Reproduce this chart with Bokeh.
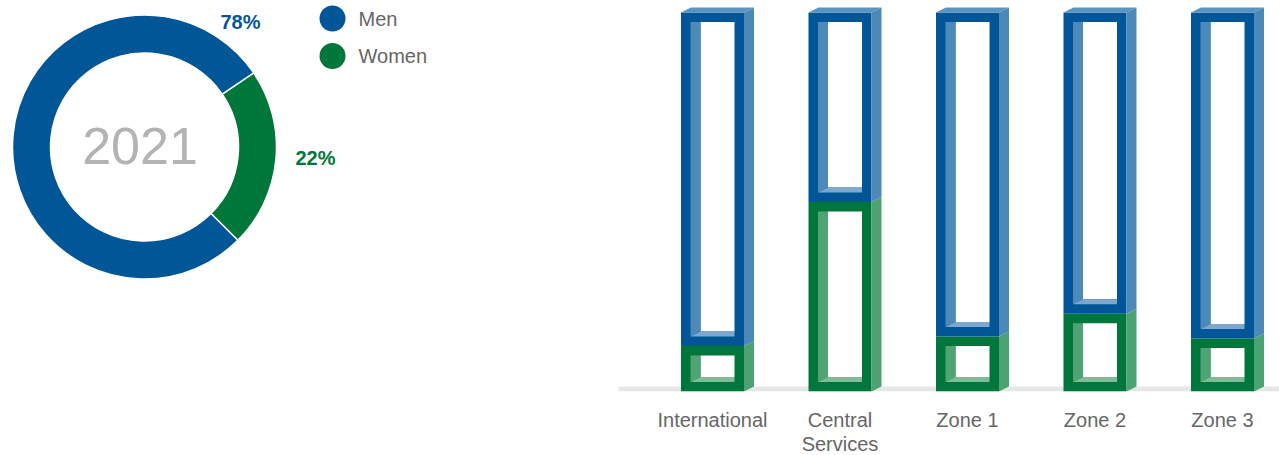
import math
from bokeh.plotting import figure
from bokeh.models import ColumnDataSource, Range1d, FixedTicker
from bokeh.layouts import row
from bokeh.embed import file_html
from bokeh.resources import INLINE
from bokeh.core.properties import value

# ---------------- data ----------------
genders = ["Men", "Women"]
total_share = [78, 22]
year_label = "2021"

categories = ["International", "Central\nServices", "Zone 1", "Zone 2", "Zone 3"]
women_pct = [12, 50, 14.5, 20.5, 14]
men_pct = [88, 50, 85.5, 79.5, 86]

# ---------------- styles ----------------
FONT = "Liberation Sans"
BLUE = "#005697"
GREEN = "#00773a"
BLUE_SIDE = "#4c88b8"
BLUE_TOP = "#5a93c1"
BLUE_WALL = "#4e8ab9"
BLUE_FLOOR = "#7da7ce"
GREEN_SIDE = "#4da273"
GREEN_WALL = "#4fa374"
GREEN_FLOOR = "#80bb98"
TEXT_GREY = "#666666"

FH = 391          # shared frame height (rows align frames)
BOTTOM = 64       # space under the frames for the category labels

# ---------------- donut ----------------
W1 = 600
p1 = figure(frame_width=W1, frame_height=FH, x_range=Range1d(0, W1), y_range=Range1d(0, FH),
            output_backend="svg", toolbar_location=None,
            x_axis_location=None, y_axis_location=None, min_border=0,
            min_border_bottom=BOTTOM)
p1.grid.visible = False
p1.outline_line_color = None

cx, cy = 144, FH - 146.5
r_in, r_out = 94, 132
# Women wedge starts at -45 deg, then Men follows counter-clockwise
start = math.radians(-45)
order = [1, 0]
starts, ends, cols, names = [], [], [], []
a = start
for k in order:
    span = total_share[k] / sum(total_share) * 2 * math.pi
    starts.append(a)
    ends.append(a + span)
    cols.append(BLUE if k == 0 else GREEN)
    names.append(genders[k])
    a += span
dsrc = ColumnDataSource(dict(s=starts, e=ends, c=cols, n=names))
p1.annular_wedge(x=cx, y=cy, inner_radius=r_in, outer_radius=r_out,
                 start_angle="s", end_angle="e", fill_color="c",
                 line_color="white", line_width=1.5, source=dsrc)

p1.text(x=[cx - 4.5], y=[cy + 1], text=[year_label], text_font=value(FONT),
        text_font_size="52px", text_color="#b3b3b3",
        text_align="center", text_baseline="middle")

lab = ColumnDataSource(dict(
    x=[cx + 96, cx + 171],
    y=[cy + 125.5, cy - 11],
    t=[f"{total_share[0]}%", f"{total_share[1]}%"],
    c=[BLUE, GREEN]))
p1.text(x="x", y="y", text="t", text_color="c", source=lab,
        text_font=value(FONT), text_font_size="20px", text_font_style="bold",
        text_align="center", text_baseline="middle")

# legend
leg_y = [FH - 18 - 37.5 * i for i in range(len(genders))]
leg = ColumnDataSource(dict(x=[332] * len(genders), y=leg_y, c=[BLUE, GREEN], t=genders))
p1.scatter(x="x", y="y", size=26, fill_color="c", line_color=None, source=leg)
p1.text(x=[358] * len(genders), y=leg_y, text=genders,
        text_font=value(FONT), text_font_size="20px", text_color=TEXT_GREY,
        text_align="left", text_baseline="middle")

# ---------------- 3D hollow stacked bars ----------------
W2 = 1279 - W1
px_per_x = 127.5
x0_px = 112
px_per_y = 3.79
y_end = FH / px_per_y

p2 = figure(frame_width=W2, frame_height=FH,
            x_range=Range1d(-x0_px / px_per_x, (W2 - x0_px) / px_per_x),
            y_range=Range1d(0, y_end),
            output_backend="svg", toolbar_location=None,
            y_axis_location=None, min_border=0, min_border_bottom=BOTTOM)
p2.grid.visible = False
p2.outline_line_color = None

hw = 31.5 / px_per_x
tx = 9.5 / px_per_x
ty = 9.5 / px_per_y
dx = 10 / px_per_x
dy = 5 / px_per_y

# floor band
p2.quad(left=[(618 - W1 - x0_px) / px_per_x], right=[(W2 + 20 - x0_px) / px_per_x],
        bottom=[0], top=[dy], fill_color="#e6e6e6", line_color=None)

front = dict(l=[], r=[], b=[], t=[], c=[])
white = dict(l=[], r=[], b=[], t=[])
polys = dict(xs=[], ys=[], c=[])

for i, cat in enumerate(categories):
    segs = [(0, women_pct[i], GREEN, GREEN_SIDE, GREEN_WALL, GREEN_FLOOR, None),
            (women_pct[i], women_pct[i] + men_pct[i], BLUE, BLUE_SIDE, BLUE_WALL, BLUE_FLOOR, BLUE_TOP)]
    for (b, t, cf, cs, cw, cfl, ct) in segs:
        L, R = i - hw, i + hw
        front["l"].append(L); front["r"].append(R)
        front["b"].append(b); front["t"].append(t); front["c"].append(cf)
        # right side face
        polys["xs"].append([R, R + dx, R + dx, R])
        polys["ys"].append([b, b + dy, t + dy, t])
        polys["c"].append(cs)
        if ct is not None:
            polys["xs"].append([L, L + dx, R + dx, R])
            polys["ys"].append([t, t + dy, t + dy, t])
            polys["c"].append(ct)
        il, ir, ib, it = L + tx, R - tx, b + ty, t - ty
        # inner left wall
        polys["xs"].append([il, il + dx, il + dx, il])
        polys["ys"].append([it, it, ib + dy, ib])
        polys["c"].append(cw)
        # inner floor
        polys["xs"].append([il, il + dx, ir, ir])
        polys["ys"].append([ib, ib + dy, ib + dy, ib])
        polys["c"].append(cfl)
        white["l"].append(il + dx); white["r"].append(ir)
        white["b"].append(ib + dy); white["t"].append(it)

p2.quad(left="l", right="r", bottom="b", top="t", fill_color="c",
        line_color=None, source=ColumnDataSource(front))
p2.quad(left="l", right="r", bottom="b", top="t", fill_color="white",
        line_color=None, source=ColumnDataSource(white))
p2.patches(xs="xs", ys="ys", fill_color="c", line_color=None,
           source=ColumnDataSource(polys))

ax = p2.xaxis[0]
ax.ticker = FixedTicker(ticks=list(range(len(categories))))
ax.major_label_overrides = {i: c for i, c in enumerate(categories)}
ax.axis_line_color = None
ax.major_tick_line_color = None
ax.minor_tick_line_color = None
ax.major_tick_out = 0
ax.major_tick_in = 0
ax.major_label_standoff = 17
ax.major_label_text_font = FONT
ax.major_label_text_font_size = "20px"
ax.major_label_text_color = TEXT_GREY
ax.major_label_text_line_height = 1.1

layout = row(p1, p2)
open("out.html", "w").write(file_html(layout, INLINE))
